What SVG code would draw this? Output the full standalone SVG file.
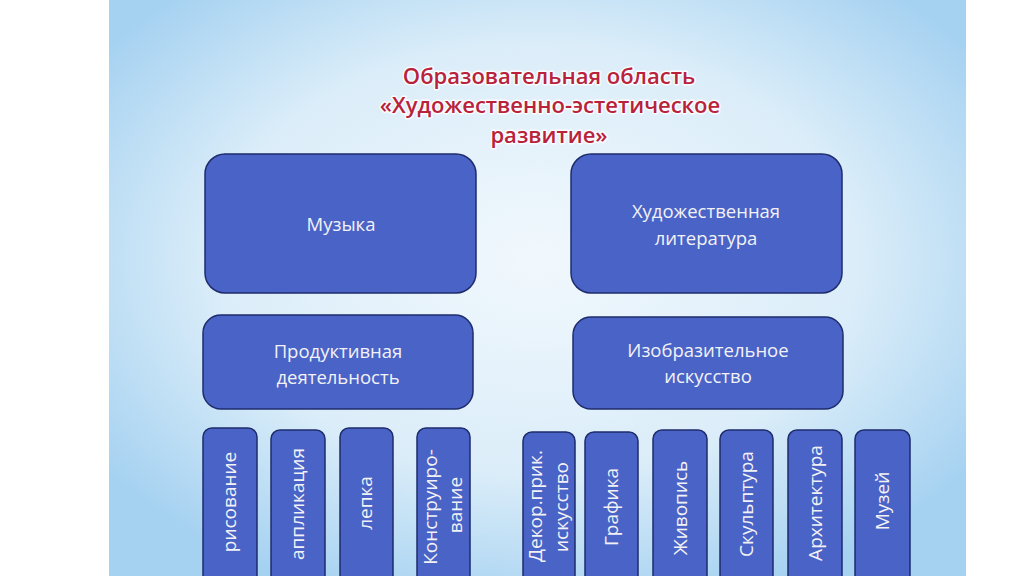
<svg xmlns="http://www.w3.org/2000/svg" width="1024" height="576" viewBox="0 0 1024 576">
<defs>
<radialGradient id="bg" cx="0.5" cy="0.45" r="0.62">
<stop offset="0" stop-color="#f1f8fd"/>
<stop offset="0.6" stop-color="#dbedf9"/>
<stop offset="1" stop-color="#a6d2f1"/>
</radialGradient>
<style>
.box{fill:#4a63c6;stroke:#1e2c6c;stroke-width:1.5}
.lbl{font-family:"Open Sans","Liberation Sans",sans-serif;font-size:18.5px;fill:#f2f2f6;text-anchor:middle}
.vl{font-family:"Open Sans","Liberation Sans",sans-serif;font-size:19px;fill:#f2f2f6;text-anchor:middle}
.title{font-family:"Open Sans","Liberation Sans",sans-serif;font-size:22px;font-weight:600;fill:#b8223b;text-anchor:middle;paint-order:stroke;stroke:#ffffff;stroke-width:3;stroke-opacity:0.85;stroke-linejoin:round}
</style>
</defs>
<rect x="0" y="0" width="1024" height="576" fill="#ffffff"/>
<rect x="109" y="0" width="857" height="576" fill="url(#bg)"/>
<g id="title">
<text class="title" x="549" y="84">Образовательная область</text>
<text class="title" x="550" y="113">«Художественно-эстетическое</text>
<text class="title" x="549" y="143">развитие»</text>
</g>
<g id="connectors"/>
<g id="n-music"><rect class="box" x="205" y="154" width="271" height="139" rx="20"/><text class="lbl" x="341" y="231">Музыка</text></g>
<g id="n-lit"><rect class="box" x="571" y="154" width="271" height="139" rx="20"/><text class="lbl" x="706" y="218">Художественная</text><text class="lbl" x="706" y="245">литература</text></g>
<g id="n-prod"><rect class="box" x="203" y="315" width="270" height="94" rx="18"/><text class="lbl" x="338" y="358">Продуктивная</text><text class="lbl" x="338" y="384">деятельность</text></g>
<g id="n-izo"><rect class="box" x="573" y="317" width="270" height="92" rx="18"/><text class="lbl" x="708" y="357">Изобразительное</text><text class="lbl" x="708" y="383">искусство</text></g>
<g id="n-ris"><rect class="box" x="203" y="428" width="54" height="160" rx="9"/><text class="vl" transform="translate(236,502) rotate(-90)">рисование</text></g>
<g id="n-appl"><rect class="box" x="271" y="430" width="54" height="160" rx="9"/><text class="vl" transform="translate(304,504) rotate(-90)">аппликация</text></g>
<g id="n-lep"><rect class="box" x="340" y="428" width="53" height="160" rx="9"/><text class="vl" transform="translate(372,503) rotate(-90)">лепка</text></g>
<g id="n-kon"><rect class="box" x="417" y="428" width="53" height="160" rx="9"/><text class="vl" transform="translate(437,507) rotate(-90)">Конструиро-</text><text class="vl" transform="translate(462,505) rotate(-90)">вание</text></g>
<g id="n-dek"><rect class="box" x="523" y="432" width="52" height="160" rx="9"/><text class="vl" transform="translate(542,506) rotate(-90)">Декор.прик.</text><text class="vl" transform="translate(568,507) rotate(-90)">искусство</text></g>
<g id="n-graf"><rect class="box" x="585" y="432" width="53" height="160" rx="9"/><text class="vl" transform="translate(618,507) rotate(-90)">Графика</text></g>
<g id="n-zhiv"><rect class="box" x="653" y="430" width="54" height="160" rx="9"/><text class="vl" transform="translate(687,508) rotate(-90)">Живопись</text></g>
<g id="n-skul"><rect class="box" x="720" y="430" width="53" height="160" rx="9"/><text class="vl" transform="translate(753,504) rotate(-90)">Скульптура</text></g>
<g id="n-arh"><rect class="box" x="788" y="430" width="54" height="160" rx="9"/><text class="vl" transform="translate(822,503) rotate(-90)">Архитектура</text></g>
<g id="n-muz"><rect class="box" x="855" y="430" width="55" height="160" rx="9"/><text class="vl" transform="translate(889,501) rotate(-90)">Музей</text></g>
</svg>
